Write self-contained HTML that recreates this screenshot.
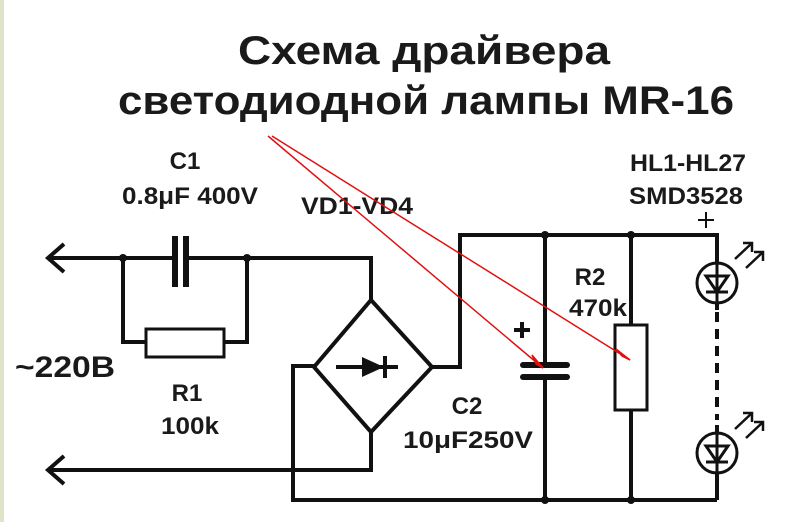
<!DOCTYPE html>
<html><head><meta charset="utf-8"><style>
html,body{margin:0;padding:0;background:#fff}
svg{display:block}
text{font-family:"Liberation Sans",sans-serif;font-weight:bold;fill:#1a1a1a}
</style></head><body>
<svg width="800" height="522" viewBox="0 0 800 522">
<rect x="0" y="0" width="800" height="522" fill="#fff"/>
<rect x="0" y="0" width="4" height="522" fill="#dfe3c8"/>
<text x="424" y="64" font-size="40" text-anchor="middle" textLength="372" lengthAdjust="spacingAndGlyphs">Схема драйвера</text>
<text x="426" y="114" font-size="40" text-anchor="middle" textLength="616" lengthAdjust="spacingAndGlyphs">светодиодной лампы MR-16</text>
<text x="185" y="169" font-size="24" text-anchor="middle">C1</text>
<text x="190" y="204" font-size="24" text-anchor="middle" textLength="136" lengthAdjust="spacingAndGlyphs">0.8μF 400V</text>
<text x="357" y="214" font-size="24" text-anchor="middle" textLength="112" lengthAdjust="spacingAndGlyphs">VD1-VD4</text>
<text x="65" y="377" font-size="30" text-anchor="middle" textLength="100" lengthAdjust="spacingAndGlyphs">~220B</text>
<text x="187" y="401" font-size="24" text-anchor="middle">R1</text>
<text x="190" y="434" font-size="24" text-anchor="middle" textLength="58" lengthAdjust="spacingAndGlyphs">100k</text>
<text x="467" y="414" font-size="24" text-anchor="middle">C2</text>
<text x="468" y="448" font-size="24" text-anchor="middle" textLength="130" lengthAdjust="spacingAndGlyphs">10μF250V</text>
<text x="590" y="285" font-size="24" text-anchor="middle">R2</text>
<text x="598" y="316" font-size="24" text-anchor="middle" textLength="58" lengthAdjust="spacingAndGlyphs">470k</text>
<text x="688" y="171" font-size="24" text-anchor="middle" textLength="116" lengthAdjust="spacingAndGlyphs">HL1-HL27</text>
<text x="686" y="204" font-size="24" text-anchor="middle" textLength="114" lengthAdjust="spacingAndGlyphs">SMD3528</text>
<g stroke="#111" stroke-width="4" fill="none" stroke-linejoin="miter">
<path d="M48 258 H173 M187 258 H371 V300"/>
<path d="M64 244 L48 258 L64 272"/>
<path d="M64 456 L48 470 L64 484"/>
<path d="M48 470 H371 V432"/>
<path d="M123 258 V342 H146 M224 342 H247 V258"/>
<rect x="146" y="329" width="78" height="28" stroke-width="3"/>
<path d="M371 300 L432 367 L371 432 L314 367 Z"/>
<path d="M314 366 H293 V500 H717"/>
<path d="M432 367 H460 V235 H717 V262"/>
<path d="M545 235 V365 M545 377 V500"/>
<path d="M631 235 V325 M631 410 V500"/>
<rect x="615" y="325" width="32" height="85" stroke-width="3"/>
<path d="M336 367 H398"/>
<path d="M717 304 V310 M717 432 V425 M717 474 V500"/>
<path d="M717 312 V420" stroke-dasharray="10 7"/>
<circle cx="717" cy="283" r="20" stroke-width="3"/>
<circle cx="717" cy="453" r="20" stroke-width="3"/>
<path d="M717 262 V304 M717 432 V474" stroke-width="3"/>
<path d="M706 276 H728 L717 292 Z M706 292 H728" stroke-width="3"/>
<path d="M706 446 H728 L717 462 Z M706 462 H728" stroke-width="3"/>
<path d="M735 259 L752 243 M743 243 H752 V252 M746 268 L763 252 M754 252 H763 V261" stroke-width="2.5"/>
<path d="M735 429 L752 413 M743 413 H752 V422 M746 438 L763 422 M754 422 H763 V431" stroke-width="2.5"/>
<path d="M698 220 H714 M706 212 V228" stroke-width="2"/>
<path d="M514 330 H530 M522 322 V338" stroke-width="4"/>
</g>
<rect x="172" y="236" width="6" height="51" fill="#111"/>
<rect x="183" y="236" width="6" height="51" fill="#111"/>
<rect x="520" y="362" width="50" height="6" rx="3" fill="#111"/>
<rect x="520" y="374" width="50" height="6" rx="3" fill="#111"/>
<path d="M362 357 L384 367 L362 377 Z" fill="#111"/>
<rect x="383" y="356" width="4" height="22" fill="#111"/>
<g fill="#111">
<circle cx="123" cy="258" r="4"/><circle cx="247" cy="258" r="4"/>
<circle cx="545" cy="235" r="4"/><circle cx="631" cy="235" r="4"/>
<circle cx="545" cy="500" r="4"/><circle cx="631" cy="500" r="4"/>
</g>
<g stroke="#e01010" stroke-width="1.5" fill="#e01010">
<line x1="268" y1="136" x2="543" y2="368"/>
<line x1="272" y1="136" x2="630" y2="360"/>
<path d="M543 368 L532 355 L536 364 Z"/>
<path d="M630 360 L616 349 L622 356 Z"/>
</g>
</svg>
</body></html>
